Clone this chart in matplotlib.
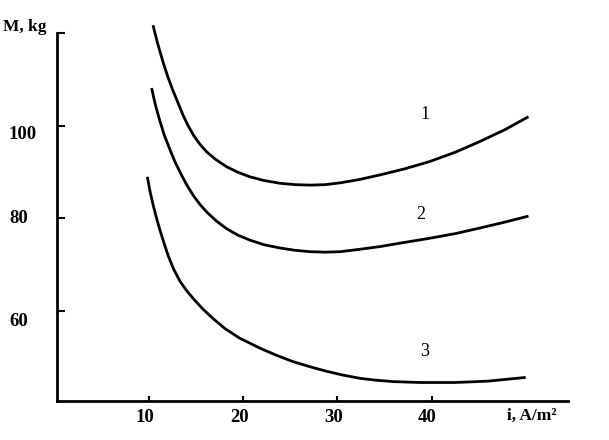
import matplotlib
matplotlib.use('Agg')
import matplotlib.pyplot as plt
import matplotlib.transforms as mtransforms


# curves M(i)
i_1 = [10.4, 10.9, 11.5, 12.0, 12.55, 13.1, 13.6, 14.1, 14.7, 15.4, 16.1, 17.1, 18.2, 19.4,
       20.7, 22.2, 23.9, 25.5, 27.1, 28.7, 30.3, 32.3, 34.5, 37.1, 39.8, 42.5, 45.1, 47.8, 50.3]
m_1 = [121.8, 117.8, 113.6, 110.5, 107.5, 104.8, 102.3, 100.2, 98.0, 96.0, 94.4, 92.7, 91.2, 90.0,
       89.0, 88.2, 87.6, 87.3, 87.2, 87.3, 87.7, 88.4, 89.4, 90.7, 92.3, 94.3, 96.6, 99.2, 102.0]

i_2 = [10.25, 10.65, 11.1, 11.6, 12.2, 12.7, 13.3, 14.0, 14.7, 15.4, 16.1, 17.1, 18.2, 19.4,
       20.7, 22.2, 23.9, 25.5, 27.1, 28.7, 30.3, 32.3, 34.5, 37.1, 39.8, 42.5, 45.1, 47.8, 50.3]
m_2 = [108.2, 104.6, 101.3, 98.0, 94.9, 92.4, 89.9, 87.2, 84.9, 83.0, 81.4, 79.5, 77.8, 76.4,
       75.3, 74.3, 73.6, 73.1, 72.8, 72.7, 72.8, 73.3, 73.9, 74.8, 75.7, 76.7, 77.9, 79.2, 80.5]

i_3 = [9.8, 10.1, 10.45, 10.8, 11.15, 11.55, 12.0, 12.6, 13.3, 14.0, 14.7, 15.7, 16.8, 18.1,
       19.6, 20.7, 21.8, 23.5, 25.3, 27.1, 28.9, 30.6, 32.4, 34.1, 35.9, 38.8, 42.5, 46.0, 50.0]
m_3 = [89.0, 85.7, 82.6, 79.9, 77.4, 74.8, 72.0, 69.0, 66.3, 64.3, 62.6, 60.4, 58.3, 56.1,
       54.1, 53.0, 51.9, 50.4, 49.0, 47.9, 46.9, 46.1, 45.4, 45.0, 44.7, 44.5, 44.5, 44.8, 45.6]

curve_names = ['1', '2', '3']
name_pos = [(39.3, 102.4), (38.8, 80.8), (39.3, 51.1)]

x_ticks = [10, 20, 30, 40]
y_ticks = [60, 80, 100, 120]
y_labels = ['60', '80', '100', '']

serif = 'Liberation Serif'

fig = plt.figure(figsize=(6.09, 4.40), dpi=100)
ax = fig.add_axes([57 / 609, 1 - 401 / 440, 511 / 609, 367.5 / 440])

for xs, ys in [(i_1, m_1), (i_2, m_2), (i_3, m_3)]:
    ax.plot(xs, ys, color='black', lw=2.0, solid_capstyle='butt',
            solid_joinstyle='round', clip_on=False)

for name, (x, y) in zip(curve_names, name_pos):
    ax.text(x, y, name, family=serif, fontsize=13, ha='center', va='center')

ax.set_xlim(0.2, 54.5)
ax.set_ylim(40.5, 120)

for side in ['top', 'right']:
    ax.spines[side].set_visible(False)
for side in ['left', 'bottom']:
    ax.spines[side].set_linewidth(2.0)

ax.set_xticks(x_ticks)
ax.set_yticks(y_ticks)
ax.tick_params(axis='x', direction='in', length=3.5, width=1.5, labelbottom=False)
ax.tick_params(axis='y', direction='in', length=6, width=1.5, labelleft=False)

# tick labels placed by hand, the scan has them slightly shifted
px = fig.dpi_scale_trans
xlab_tr = mtransforms.blended_transform_factory(ax.transData, fig.transFigure)
for t in x_ticks:
    ax.text(t, 1 - 417.5 / 440, str(t), family=serif, weight='bold', fontsize=13.5,
            ha='center', va='center',
            transform=xlab_tr + mtransforms.ScaledTranslation(-4 / 100, 0, px))

ylab_tr = mtransforms.blended_transform_factory(fig.transFigure, ax.transData)
ylab_shift = {60: -11, 80: 0, 100: -9}
for t, lab in zip(y_ticks, y_labels):
    if not lab:
        continue
    ax.text(9 / 609, t, lab, family=serif, weight='bold', fontsize=13.5,
            ha='left', va='center',
            transform=ylab_tr + mtransforms.ScaledTranslation(0, ylab_shift[t] / 100, px))

fig.text(3 / 609, 1 - 31 / 440, 'M, kg', family=serif, weight='bold', fontsize=12.5,
         ha='left', va='baseline')
fig.text(532 / 609, 1 - 416 / 440, 'i, A/m²', family=serif, weight='bold', fontsize=12.5,
         ha='center', va='center')

fig.savefig('out.png', dpi=100)
